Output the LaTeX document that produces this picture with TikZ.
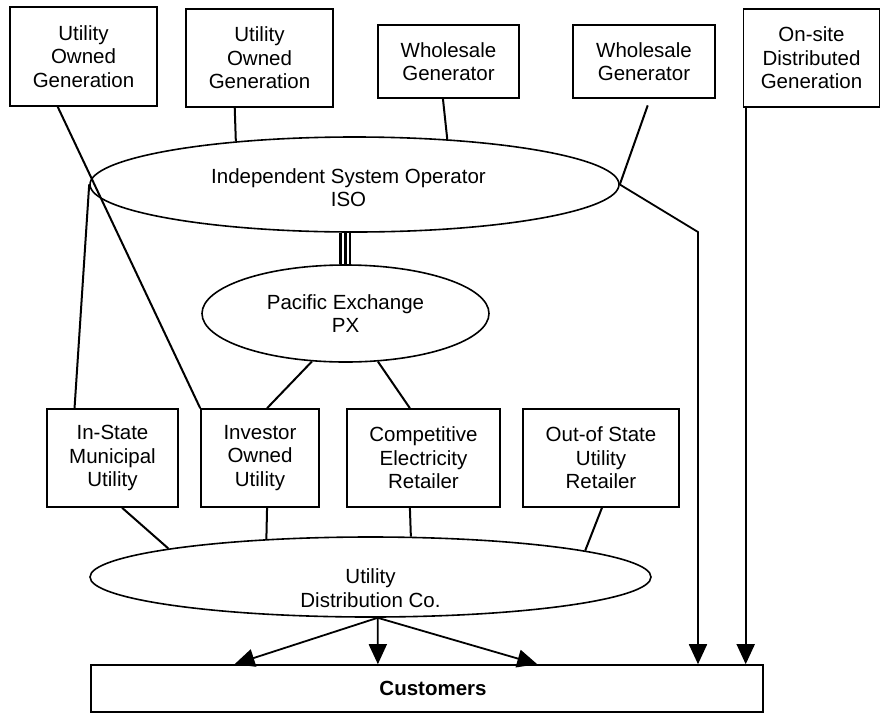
\documentclass[tikz,border=0pt]{standalone}
\usepackage{fontspec}
\setmainfont{Liberation Sans}
\usetikzlibrary{shapes.geometric,arrows.meta,calc}
\begin{document}
\begin{tikzpicture}[x=1pt,y=-1pt,
  lbl/.style={font=\fontsize{20.5}{23.5}\selectfont, align=center},
  boxn/.style={draw, line width=1.6pt, rectangle, inner sep=2pt, lbl},
  ovaln/.style={draw, line width=1.6pt, ellipse, inner sep=0pt, lbl},
  link/.style={line width=2pt},
  feed/.style={line width=1.8pt, -{Triangle[length=20pt,width=18pt]}},
]
\useasboundingbox (0,0) rectangle (881,713);
\fill[white] (0,0) rectangle (881,713);

% top row
\node[boxn, minimum width=147pt, minimum height=99pt] (uog1) at (83.5,56.5) {Utility\\Owned\\Generation};
\node[boxn, minimum width=147pt, minimum height=98pt] (uog2) at (259.5,58) {Utility\\Owned\\Generation};
\node[boxn, minimum width=141pt, minimum height=73pt] (wg1) at (448.5,61.5) {Wholesale\\Generator};
\node[boxn, minimum width=142pt, minimum height=73pt] (wg2) at (644,61.5) {Wholesale\\Generator};
\node[boxn, minimum width=136pt, minimum height=98pt] (onsite) at (811.5,58) {On-site\\Distributed\\Generation};

% ellipses
\node[ovaln, minimum width=529pt, minimum height=95pt] (iso) at (354.5,184.5) {};
\node[lbl] (isotext) at ([xshift=-6pt,yshift=-3pt]iso.center) {Independent System Operator\\ISO};
\node[ovaln, minimum width=287pt, minimum height=97pt] (px) at (345.5,313.5) {Pacific Exchange\\PX};
\node[ovaln, minimum width=561pt, minimum height=80pt] (udc) at (370.5,577) {};
\node[lbl] (udctext) at ([yshift=-11pt]udc.center) {Utility\\Distribution Co.};

% middle row
\node[boxn, minimum width=131pt, minimum height=98pt] (ism) at (112.5,458) {In-State\\Municipal\\Utility};
\node[boxn, minimum width=118pt, minimum height=98pt] (iou) at (260,458) {Investor\\Owned\\Utility};
\node[boxn, minimum width=153pt, minimum height=98pt] (cer) at (423.5,458) {Competitive\\Electricity\\Retailer};
\node[boxn, minimum width=156pt, minimum height=98pt] (oos) at (601,458) {Out-of State\\Utility\\Retailer};

% customers
\node[boxn, minimum width=672pt, minimum height=47pt, font=\fontsize{20.5}{23.5}\selectfont\bfseries] (cust) at (427,688.5) {\hspace*{12pt}Customers};

% generation links
\draw[link] ($(uog1.south west)!0.3265!(uog1.south east)$) -- (iou.north west);
\draw[link] ($(uog2.south west)!0.3333!(uog2.south east)$) -- (iso.160.46);
\draw[link] ($(wg1.south west)!0.461!(wg1.south east)$) -- (iso.26.85);
\draw[link, shorten <=7pt] ($(wg2.south west)!0.542!(wg2.south east)$) -- (iso.east);

% ISO direct feed to customers
\coordinate (bend) at (698,232);
\draw[feed] (iso.east) -- (bend) -- (bend |- cust.north);

% on-site generation feed
\coordinate (osfoot) at ([xshift=3pt]onsite.south west);
\draw[feed] (osfoot) -- (osfoot |- cust.north);

% ISO to in-state utility
\draw[link] (iso.west) -- ($(ism.north west)!0.2137!(ism.north east)$);

% ISO - PX triple link
\coordinate (isob) at (px.north |- iso.south);
\foreach \dx in {-5,0,4.5}
  \draw[line width=2.4pt] ([xshift=\dx pt]isob) -- ([xshift=\dx pt]px.north);

% PX to retailers
\draw[link] (px.235.45) -- ($(iou.north west)!0.559!(iou.north east)$);
\draw[link] (px.304.1) -- ($(cer.north west)!0.412!(cer.north east)$);

% retailers to distribution
\draw[link] ($(ism.south west)!0.5725!(ism.south east)$) -- (udc.172.05);
\draw[link] ($(iou.south west)!0.559!(iou.south east)$) -- (udc.160.23);
\draw[link] ($(cer.south west)!0.412!(cer.south east)$) -- (udc.45.07);
\draw[link] ($(oos.south west)!0.506!(oos.south east)$) -- (udc.7.86);

% distribution to customers
\coordinate (src) at (udc.280.6);
\draw[feed] (src) -- ($(cust.north west)!0.2143!(cust.north east)$);
\draw[feed] (src) -- ($(cust.north west)!0.4271!(cust.north east)$);
\draw[feed] (src) -- ($(cust.north west)!0.6637!(cust.north east)$);
\end{tikzpicture}
\end{document}
